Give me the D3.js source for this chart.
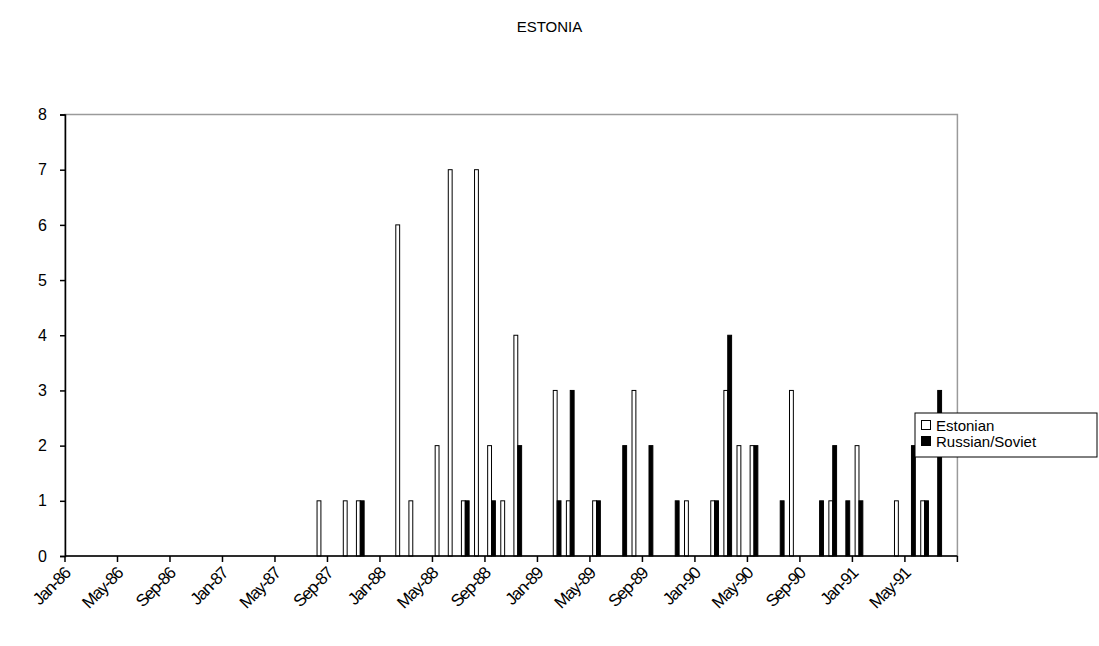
<!DOCTYPE html>
<html>
<head>
<meta charset="utf-8">
<script src="https://cdn.jsdelivr.net/npm/d3@7"></script>
<style>
  html, body { margin: 0; padding: 0; background: #fff; }
  svg { display: block; }
  text { font-family: "Liberation Sans", Arial, sans-serif; fill: #000; }
</style>
</head>
<body>
<svg id="chart" width="1099" height="646"></svg>
<script>
// Monthly counts of events, by month in which they occurred
const eventMonths = ["Aug-87","Oct-87","Nov-87","Feb-88","Mar-88","May-88","Jun-88","Jul-88","Aug-88","Sep-88","Oct-88","Nov-88",
                     "Feb-89","Mar-89","May-89","Jul-89","Aug-89","Sep-89","Nov-89","Dec-89",
                     "Feb-90","Mar-90","Apr-90","May-90","Jul-90","Aug-90","Oct-90","Nov-90","Dec-90",
                     "Jan-91","Apr-91","May-91","Jun-91","Jul-91"];
const estonian     = [1,1,1,6,1,2,7,1,7,2,1,4, 3,1,1,0,3,0,0,1, 1,3,2,2,0,3,0,1,0, 2,1,0,1,0];
const russian      = [0,0,1,0,0,0,0,1,0,1,0,2, 1,3,1,2,0,2,1,0, 1,4,0,2,1,0,1,2,1, 1,0,2,1,3];
const seriesNames  = ["Estonian", "Russian/Soviet"];
const yTicks       = [0,1,2,3,4,5,6,7,8];
const xTickLabels  = ["Jan-86","May-86","Sep-86","Jan-87","May-87","Sep-87","Jan-88","May-88","Sep-88",
                      "Jan-89","May-89","Sep-89","Jan-90","May-90","Sep-90","Jan-91","May-91"];

(function () {
  const fmt = d3.timeFormat("%b-%y");
  // Axis categories: every month from Jan-86 to Aug-91
  const allMonths = d3.timeMonth.range(new Date(1986, 0, 1), new Date(1991, 8, 1)).map(fmt);

  const svg = d3.select("#chart");
  const plotL = 65, plotR = 957.4, plotT = 114.5, plotB = 556;

  const x = d3.scaleBand().domain(allMonths).range([plotL, plotR]).padding(0);
  const xs = d3.scaleBand().domain(seriesNames).range([0, x.bandwidth()]).paddingInner(0).paddingOuter(0.7);
  const y = d3.scaleLinear().domain([0, 8]).range([plotB, plotT]);

  // Title
  svg.append("text").attr("x", 549.5).attr("y", 32).attr("text-anchor", "middle")
    .style("font-size", "15px").text("ESTONIA");

  // Plot area frame
  svg.append("rect").attr("x", plotL).attr("y", plotT).attr("width", plotR - plotL).attr("height", plotB - plotT)
    .attr("fill", "none").attr("stroke", "#9a9a9a").attr("stroke-width", 1.5);

  // Bars
  const rows = eventMonths.map((m, i) => ({ month: m, values: [estonian[i], russian[i]] }));
  const fills = { "Estonian": "#fff", "Russian/Soviet": "#000" };
  const g = svg.append("g");
  rows.forEach(r => {
    seriesNames.forEach((s, j) => {
      const v = r.values[j];
      if (!v) return;
      g.append("rect")
        .attr("x", x(r.month) + xs(s))
        .attr("y", y(v))
        .attr("width", xs.bandwidth())
        .attr("height", y(0) - y(v))
        .attr("fill", fills[s])
        .attr("stroke", "#000")
        .attr("stroke-width", 1);
    });
  });

  // Y axis
  const yAxis = svg.append("g").attr("transform", `translate(${plotL},0)`)
    .call(d3.axisLeft(y).tickValues(yTicks).tickSize(5).tickPadding(13).tickFormat(d3.format("d")));
  yAxis.select(".domain").attr("stroke", "#000").attr("stroke-width", 1.5);
  yAxis.selectAll(".tick line").attr("stroke", "#000").attr("stroke-width", 1.5);
  yAxis.selectAll("text").style("font-size", "16px").attr("font-family", "Liberation Sans, Arial, sans-serif");

  // X axis: ticks at month boundaries every four months, plus the closing edge
  const xTickPos = xTickLabels.map(l => x(l)).concat([plotR]);
  const xAxisG = svg.append("g");
  xAxisG.append("line").attr("x1", plotL).attr("x2", plotR).attr("y1", plotB).attr("y2", plotB)
    .attr("stroke", "#000").attr("stroke-width", 1.5);
  xAxisG.selectAll("line.tick").data(xTickPos).enter().append("line").attr("class", "tick")
    .attr("x1", d => d).attr("x2", d => d).attr("y1", plotB).attr("y2", plotB + 6)
    .attr("stroke", "#000").attr("stroke-width", 1.5);
  xAxisG.selectAll("text").data(xTickLabels).enter().append("text")
    .attr("transform", d => `translate(${x(d) - 2},${plotB + 10}) rotate(-45)`)
    .attr("text-anchor", "end").attr("dy", "0.7em")
    .style("font-size", "17px").style("letter-spacing", "-1.2px")
    .text(d => d);

  // Legend
  const lg = svg.append("g").attr("transform", "translate(915,413)");
  lg.append("rect").attr("x", 0).attr("y", 0).attr("width", 182).attr("height", 44)
    .attr("fill", "#fff").attr("stroke", "#000").attr("stroke-width", 1);
  seriesNames.forEach((s, i) => {
    lg.append("rect").attr("x", 6.5).attr("y", 7.5 + i * 16).attr("width", 9).attr("height", 9)
      .attr("fill", fills[s]).attr("stroke", "#000").attr("stroke-width", 1);
    lg.append("text").attr("x", 21).attr("y", 17.5 + i * 16).style("font-size", "15px").text(s);
  });
})();
</script>
</body>
</html>
